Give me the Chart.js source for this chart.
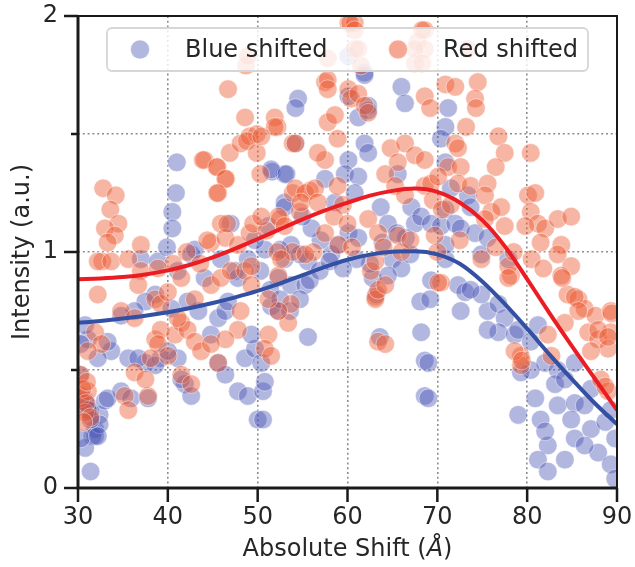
<!DOCTYPE html>
<html>
<head>
<meta charset="utf-8">
<script src="https://cdn.jsdelivr.net/npm/chart.js"></script>
<style>
  html, body { margin: 0; padding: 0; background: #fff; }
  #wrap { width: 635px; height: 567px; }
</style>
</head>
<body>
<div id="wrap"><canvas id="chart" width="635" height="567"></canvas></div>
<script>
// scatter points [shift, intensity]
const bluePoints = [
  [30.2,0.48],[30.4,0.39],[30.8,0.37],[31.1,0.35],[31.3,0.33],[31.9,0.25],[31.6,0.22],[32.4,0.31],
  [33.0,0.37],[31.4,0.07],[30.8,0.17],[31.9,0.22],[32.4,0.27],[31.1,0.33],[33.3,0.38],[34.8,0.41],
  [35.9,0.38],[37.8,0.38],[33.7,0.58],[32.2,0.55],[35.6,0.55],[37.5,0.53],[39.2,0.55],[41.1,0.55],
  [41.9,0.44],[42.6,0.39],[45.6,0.53],[46.4,0.48],[47.8,0.41],[48.9,0.39],[48.6,0.55],[49.7,0.59],
  [49.3,0.65],[50.0,0.29],[44.8,0.65],[45.6,0.72],[46.4,0.75],[43.4,0.75],[42.2,0.79],[44.1,0.89],
  [47.5,0.92],[47.8,0.89],[46.7,0.79],[38.6,0.82],[37.5,0.79],[36.3,0.75],[34.8,0.73],[33.3,0.62],
  [31.1,0.63],[30.8,0.69],[30.3,0.61],[36.7,0.55],[38.6,0.52],[40.0,0.58],[41.5,0.46],[37.0,0.97],
  [38.9,0.96],[41.1,0.92],[45.9,0.97],[48.9,0.97],[42.6,0.99],[40.4,0.76],[30.3,0.21],[32.2,0.22],
  [31.4,0.29],[41.0,1.38],[40.9,1.25],[40.5,1.17],[40.5,1.10],[39.9,1.02],[43.0,1.01],[47.0,1.12],
  [54.5,1.65],[54.2,1.61],[51.6,1.34],[53.0,1.33],[53.0,1.21],[54.2,1.46],[50.6,0.29],[50.6,0.41],
  [50.8,0.45],[50.4,0.53],[55.6,0.64],[63.6,0.64],[68.2,0.66],[68.6,0.54],[69.0,0.53],[68.6,0.39],
  [69.0,0.38],[68.1,0.79],[69.2,0.80],[69.3,0.88],[63.2,0.82],[62.8,0.89],[53.7,0.86],[55.3,0.86],
  [52.3,0.89],[51.5,0.77],[52.3,0.75],[55.6,0.96],[58.2,0.99],[53.0,0.97],[72.6,0.75],[75.6,0.75],
  [72.3,0.86],[73.1,0.83],[74.9,0.82],[76.8,0.78],[77.5,0.72],[76.8,0.66],[78.6,0.65],[79.0,0.67],
  [80.4,0.62],[81.2,0.69],[82.0,0.53],[83.4,0.50],[83.1,0.44],[83.4,0.35],[85.3,0.36],[86.4,0.35],
  [84.9,0.29],[87.1,0.25],[88.7,0.28],[89.3,0.33],[89.8,0.21],[87.9,0.15],[85.3,0.21],[86.4,0.18],
  [84.2,0.12],[82.3,0.18],[81.5,0.29],[82.0,0.24],[81.2,0.12],[82.3,0.07],[80.9,0.38],[79.0,0.31],
  [80.4,0.50],[79.3,0.49],[85.3,0.53],[84.2,0.46],[87.1,0.42],[89.3,0.10],[89.8,0.04],[75.6,0.67],
  [73.7,0.84],[70.9,0.97],[74.9,0.99],[77.9,0.97],[60.1,1.66],[61.9,1.76],[62.3,1.62],[66.0,1.70],
  [66.4,1.63],[61.2,1.57],[61.9,1.46],[62.3,1.42],[60.1,1.39],[59.7,1.33],[61.2,1.32],[60.8,1.25],
  [51.5,1.35],[53.2,1.33],[53.0,1.19],[57.5,1.31],[58.6,1.21],[60.1,1.08],[61.2,1.06],[63.7,1.19],
  [64.5,1.12],[67.1,1.19],[67.5,1.12],[68.2,1.15],[69.3,1.12],[65.6,1.33],[58.9,1.03],[51.2,1.11],
  [53.7,1.03],[71.2,1.61],[70.9,1.53],[70.4,1.48],[70.9,1.38],[71.5,1.27],[73.4,1.24],[73.7,1.19],
  [70.9,1.18],[70.4,1.11],[72.0,1.12],[72.6,1.10],[74.2,1.08],[75.6,1.06],[70.9,1.03],[60.1,1.83],
  [61.9,1.75],[62.3,1.60],[50.3,0.92],[51.4,0.84],[52.5,0.80],[53.6,0.75],[54.7,0.80],[55.8,0.88],
  [56.9,0.92],[58.0,0.96],[54.7,0.99],[52.5,1.01],[50.8,1.01],[49.7,1.05],[63.9,1.04],[65.0,0.97],
  [66.0,0.93],[64.5,0.90],[67.0,0.99],[66.5,1.06],[65.5,1.08],[62.5,0.95],[61.0,0.97],[59.5,0.93],
  [57.0,1.05],[56.0,1.10],[55.0,1.15]
];
const redPoints = [
  [32.8,1.27],[34.2,1.24],[33.6,1.18],[34.5,1.12],[33.0,1.10],[34.1,1.07],[33.3,1.04],[37.0,1.03],
  [45.9,1.12],[44.8,1.04],[46.4,1.06],[47.8,1.03],[49.1,1.08],[44.1,1.39],[45.4,1.36],[46.5,1.31],
  [45.6,1.25],[46.9,1.42],[48.1,1.46],[49.1,1.49],[48.6,1.57],[46.7,1.69],[48.7,1.79],[48.9,1.83],
  [51.9,1.57],[52.2,1.53],[49.9,1.50],[48.8,1.47],[49.9,1.42],[53.9,1.46],[50.3,1.33],[43.9,1.39],
  [45.5,1.36],[46.4,1.31],[45.5,1.25],[32.7,0.96],[44.4,1.05],[46.6,1.12],[49.5,1.12],[51.0,1.09],
  [52.5,1.14],[53.9,1.25],[55.8,1.26],[54.7,1.17],[53.9,1.00],[52.2,1.00],[56.2,1.00],[42.1,1.00],
  [40.6,0.95],[43.6,0.95],[51.9,1.53],[50.4,1.49],[54.2,1.46],[57.5,1.39],[56.7,1.42],[58.9,1.48],
  [57.8,1.55],[58.6,1.58],[57.5,1.72],[60.1,1.69],[60.4,1.65],[61.2,1.67],[61.9,1.62],[62.3,1.59],
  [57.8,1.82],[60.1,1.97],[60.8,1.97],[60.8,1.86],[61.5,1.79],[65.6,1.86],[67.8,1.89],[67.5,1.80],
  [68.6,1.86],[68.6,1.94],[68.6,1.66],[69.2,1.61],[54.2,1.27],[55.3,1.25],[56.4,1.27],[54.8,1.21],
  [56.7,1.21],[52.3,1.15],[53.0,1.11],[58.9,1.28],[50.4,1.15],[64.8,1.44],[66.4,1.46],[67.5,1.41],
  [68.6,1.39],[65.6,1.38],[64.2,1.33],[65.3,1.28],[66.4,1.24],[68.6,1.28],[69.3,1.29],[69.7,1.07],
  [62.3,1.14],[63.4,1.08],[65.6,1.07],[70.9,1.71],[72.0,1.70],[74.5,1.72],[74.2,1.65],[74.3,1.61],
  [73.2,1.53],[72.0,1.46],[72.3,1.44],[76.8,1.49],[77.5,1.42],[76.5,1.36],[80.4,1.42],[71.2,1.36],
  [72.6,1.36],[72.3,1.29],[73.7,1.28],[75.6,1.29],[75.3,1.24],[76.0,1.17],[77.1,1.19],[77.5,1.11],
  [80.1,1.24],[80.9,1.25],[80.4,1.17],[81.2,1.12],[79.8,1.11],[82.0,1.10],[81.5,1.04],[83.4,1.14],
  [84.9,1.15],[75.3,1.14],[83.8,1.03],[70.1,1.32],[78.2,0.90],[77.9,0.94],[74.9,0.97],[83.4,0.99],
  [84.9,0.94],[83.8,0.90],[84.5,0.82],[85.7,0.80],[86.4,0.76],[87.6,0.73],[89.3,0.75],[86.8,0.66],
  [87.9,0.63],[89.3,0.66],[89.0,0.59],[87.1,0.58],[88.2,0.46],[89.0,0.41],[84.2,0.70],[82.3,0.65],
  [82.7,0.56],[79.3,0.56],[79.3,0.52],[70.4,0.87],[63.4,0.62],[63.1,0.81],[77.9,0.89],[78.6,0.58],
  [79.4,0.54],[83.9,0.89],[85.3,0.81],[85.7,0.75],[87.9,0.67],[89.0,0.64],[88.7,0.43],[89.4,0.74],
  [32.2,0.82],[32.2,0.96],[33.7,0.96],[35.6,0.97],[37.0,0.92],[36.7,0.86],[38.6,0.80],[39.2,0.78],
  [34.8,0.75],[36.3,0.72],[31.9,0.66],[32.6,0.61],[31.1,0.58],[30.3,0.48],[30.3,0.38],[30.8,0.32],
  [31.1,0.41],[35.2,0.39],[35.6,0.33],[37.8,0.39],[38.6,0.63],[39.2,0.67],[38.9,0.61],[40.0,0.56],
  [38.1,0.55],[36.3,0.49],[37.5,0.46],[40.8,0.65],[41.5,0.70],[42.2,0.67],[43.0,0.62],[43.7,0.58],
  [41.5,0.48],[42.6,0.44],[41.1,0.72],[40.0,0.83],[41.5,0.89],[43.0,0.80],[44.8,0.86],[45.9,0.89],
  [47.0,0.92],[48.6,0.92],[49.3,0.86],[48.1,0.75],[47.8,0.67],[46.4,0.63],[44.8,0.61],[45.6,0.53],
  [49.3,0.94],[38.9,0.93],[51.2,0.65],[50.8,0.59],[51.5,0.56],[53.7,0.78],[53.4,0.70],[52.3,0.75],
  [51.2,0.80],[52.3,0.90],[52.6,0.97],[55.3,0.99],[63.1,0.80],[63.4,0.84],[64.2,0.86],[62.6,0.92],
  [63.1,0.96],[64.2,0.61],[70.1,0.87],[60.3,1.97],[60.8,1.94],[68.3,1.94],[65.6,1.86],[67.5,1.86],
  [61.2,1.86],[68.3,1.80],[73.4,1.86],[57.8,1.73],[57.8,1.69],[59.5,1.20],[58.5,1.15],[60.0,1.12],
  [57.5,1.08],[59.0,1.03],[60.5,1.02],[69.5,1.22],[70.5,1.18],[71.5,1.20],[70.0,1.00],[72.5,1.05],
  [66.0,1.00],[64.0,1.02],[67.0,1.05],[30.5,0.42],[30.9,0.36],[31.4,0.30],[30.6,0.28],[31.0,0.45],
  [80.5,0.97],[81.8,0.93],[76.5,1.02],[78.5,1.00]
];

// smoothed fits
const fitX    = [30, 32.5, 35, 37.5, 40, 42.5, 45, 47.5, 50, 52.5, 55, 57.5, 60, 62.5, 65, 67.5, 70, 72.5, 75, 77.5, 80, 82.5, 85, 87.5, 90];
const blueFit = [0.700, 0.708, 0.718, 0.730, 0.745, 0.763, 0.784, 0.808, 0.835, 0.867, 0.902, 0.937, 0.967, 0.989, 1.001, 1.003, 0.990, 0.950, 0.875, 0.780, 0.675, 0.565, 0.460, 0.360, 0.270];
const redFit  = [0.885, 0.888, 0.894, 0.905, 0.922, 0.946, 0.977, 1.014, 1.055, 1.097, 1.138, 1.176, 1.209, 1.239, 1.259, 1.269, 1.255, 1.210, 1.135, 1.025, 0.885, 0.740, 0.600, 0.465, 0.330];

const xTicks = [30, 40, 50, 60, 70, 80, 90];
const yMajor = [0, 1, 2];
const yMinor = [0.5, 1.5];
const seriesNames = ['Blue shifted', 'Red shifted'];
const xTitle = ['Absolute Shift (', 'Å', ')'];

const FONT = "'DejaVu Sans', sans-serif";
const TXT = '#262626';
const BLUE_PT = 'rgba(72, 84, 182, 0.42)';
const RED_PT = 'rgba(238, 92, 52, 0.45)';
const PT_EDGE = 'rgba(255, 255, 255, 0.45)';

const toXY = pts => pts.map(p => ({ x: p[0], y: p[1] }));
const fitXY = ys => fitX.map((x, i) => ({ x: x, y: ys[i] }));

// frame, tick marks, x title (italic Å) and the legend box
const decor = {
  id: 'decor',
  afterDatasetsDraw(chart) {
    const ctx = chart.ctx;
    const a = chart.chartArea;
    const lx = a.left + 29, ly = a.top + 12, lw = 481, lh = 43;
    ctx.save();
    ctx.beginPath();
    ctx.roundRect(lx, ly, lw, lh, 5);
    ctx.fillStyle = 'rgba(255,255,255,0.8)';
    ctx.fill();
    ctx.strokeStyle = '#d6d6d6';
    ctx.lineWidth = 1.8;
    ctx.stroke();
    const items = [
      { mx: lx + 33, tx: lx + 78, color: BLUE_PT, text: seriesNames[0] },
      { mx: lx + 291, tx: lx + 336, color: RED_PT, text: seriesNames[1] }
    ];
    ctx.font = '24px ' + FONT;
    ctx.textBaseline = 'middle';
    ctx.textAlign = 'left';
    items.forEach(it => {
      ctx.beginPath();
      ctx.arc(it.mx, ly + lh / 2, 9.5, 0, Math.PI * 2);
      ctx.fillStyle = it.color;
      ctx.fill();
      ctx.strokeStyle = PT_EDGE;
      ctx.lineWidth = 1;
      ctx.stroke();
      ctx.fillStyle = TXT;
      ctx.fillText(it.text, it.tx, ly + lh / 2 + 1);
    });
    ctx.restore();
  },
  afterDraw(chart) {
    const ctx = chart.ctx;
    const a = chart.chartArea;
    const xs = chart.scales.x, ys = chart.scales.y;
    ctx.save();
    ctx.strokeStyle = '#1a1a1a';
    ctx.lineCap = 'butt';
    // top and right
    ctx.lineWidth = 2;
    ctx.beginPath();
    ctx.moveTo(a.left, a.top); ctx.lineTo(a.right, a.top); ctx.lineTo(a.right, a.bottom);
    ctx.stroke();
    // left and bottom spines
    ctx.lineWidth = 3;
    ctx.beginPath();
    ctx.moveTo(a.left, a.top - 1); ctx.lineTo(a.left, a.bottom); ctx.lineTo(a.right + 1, a.bottom);
    ctx.stroke();
    // ticks
    ctx.lineWidth = 2.5;
    ctx.beginPath();
    xTicks.forEach(v => {
      const px = xs.getPixelForValue(v);
      ctx.moveTo(px, a.bottom); ctx.lineTo(px, a.bottom + 14);
    });
    yMajor.forEach(v => {
      const py = ys.getPixelForValue(v);
      ctx.moveTo(a.left, py); ctx.lineTo(a.left - 14, py);
    });
    yMinor.forEach(v => {
      const py = ys.getPixelForValue(v);
      ctx.moveTo(a.left, py); ctx.lineTo(a.left - 7, py);
    });
    ctx.stroke();

    // x axis title with italic Å
    const fonts = ['24px ' + FONT, 'italic 24px ' + FONT, '24px ' + FONT];
    const widths = xTitle.map((t, i) => { ctx.font = fonts[i]; return ctx.measureText(t).width; });
    let tx = (a.left + a.right) / 2 - widths.reduce((s, w) => s + w, 0) / 2;
    ctx.fillStyle = TXT;
    ctx.textBaseline = 'middle';
    ctx.textAlign = 'left';
    xTitle.forEach((t, i) => {
      ctx.font = fonts[i];
      ctx.fillText(t, tx, 550);
      tx += widths[i];
    });
    ctx.restore();
  }
};

new Chart(document.getElementById('chart'), {
  type: 'scatter',
  data: {
    datasets: [
      {
        label: seriesNames[0], data: toXY(bluePoints), order: 4, clip: 0,
        pointRadius: 9.3, pointBackgroundColor: BLUE_PT, pointBorderColor: PT_EDGE, pointBorderWidth: 1
      },
      {
        label: seriesNames[1], data: toXY(redPoints), order: 3, clip: 0,
        pointRadius: 9.3, pointBackgroundColor: RED_PT, pointBorderColor: PT_EDGE, pointBorderWidth: 1
      },
      {
        type: 'line', label: 'blue fit', data: fitXY(blueFit), order: 2, clip: 0,
        borderColor: '#3450a2', borderWidth: 4, pointRadius: 0,
        cubicInterpolationMode: 'monotone', fill: false
      },
      {
        type: 'line', label: 'red fit', data: fitXY(redFit), order: 1, clip: 0,
        borderColor: '#ec1c24', borderWidth: 4, pointRadius: 0,
        cubicInterpolationMode: 'monotone', fill: false
      }
    ]
  },
  options: {
    responsive: false,
    animation: false,
    devicePixelRatio: 1,
    events: [],
    layout: { padding: { left: 0, top: 16, right: 18, bottom: 0 } },
    plugins: { legend: { display: false }, tooltip: { enabled: false } },
    scales: {
      x: {
        type: 'linear', min: 30, max: 90,
        afterFit: s => { s.height = 79; s.paddingLeft = 0; s.paddingRight = 0; },
        grid: { color: '#8c8c8c', lineWidth: 1.6, drawTicks: false },
        border: { display: false, dash: [2, 2.8] },
        ticks: {
          stepSize: 10, autoSkip: false, maxRotation: 0, padding: 15,
          color: TXT, font: { family: FONT, size: 24 }
        },
        title: { display: false }
      },
      y: {
        type: 'linear', min: 0, max: 2,
        afterFit: s => { s.width = 78; s.paddingTop = 0; s.paddingBottom = 0; },
        grid: { color: '#8c8c8c', lineWidth: 1.6, drawTicks: false },
        border: { display: false, dash: [2, 2.8] },
        ticks: {
          stepSize: 0.5, autoSkip: false, padding: 20,
          color: TXT, font: { family: FONT, size: 24 },
          callback: v => Number.isInteger(v) ? String(v) : ''
        },
        title: {
          display: true, text: 'Intensity (a.u.)', color: TXT,
          font: { family: FONT, size: 24 }, padding: { top: 8, bottom: 0 }
        }
      }
    }
  },
  plugins: [decor]
});
</script>
</body>
</html>
